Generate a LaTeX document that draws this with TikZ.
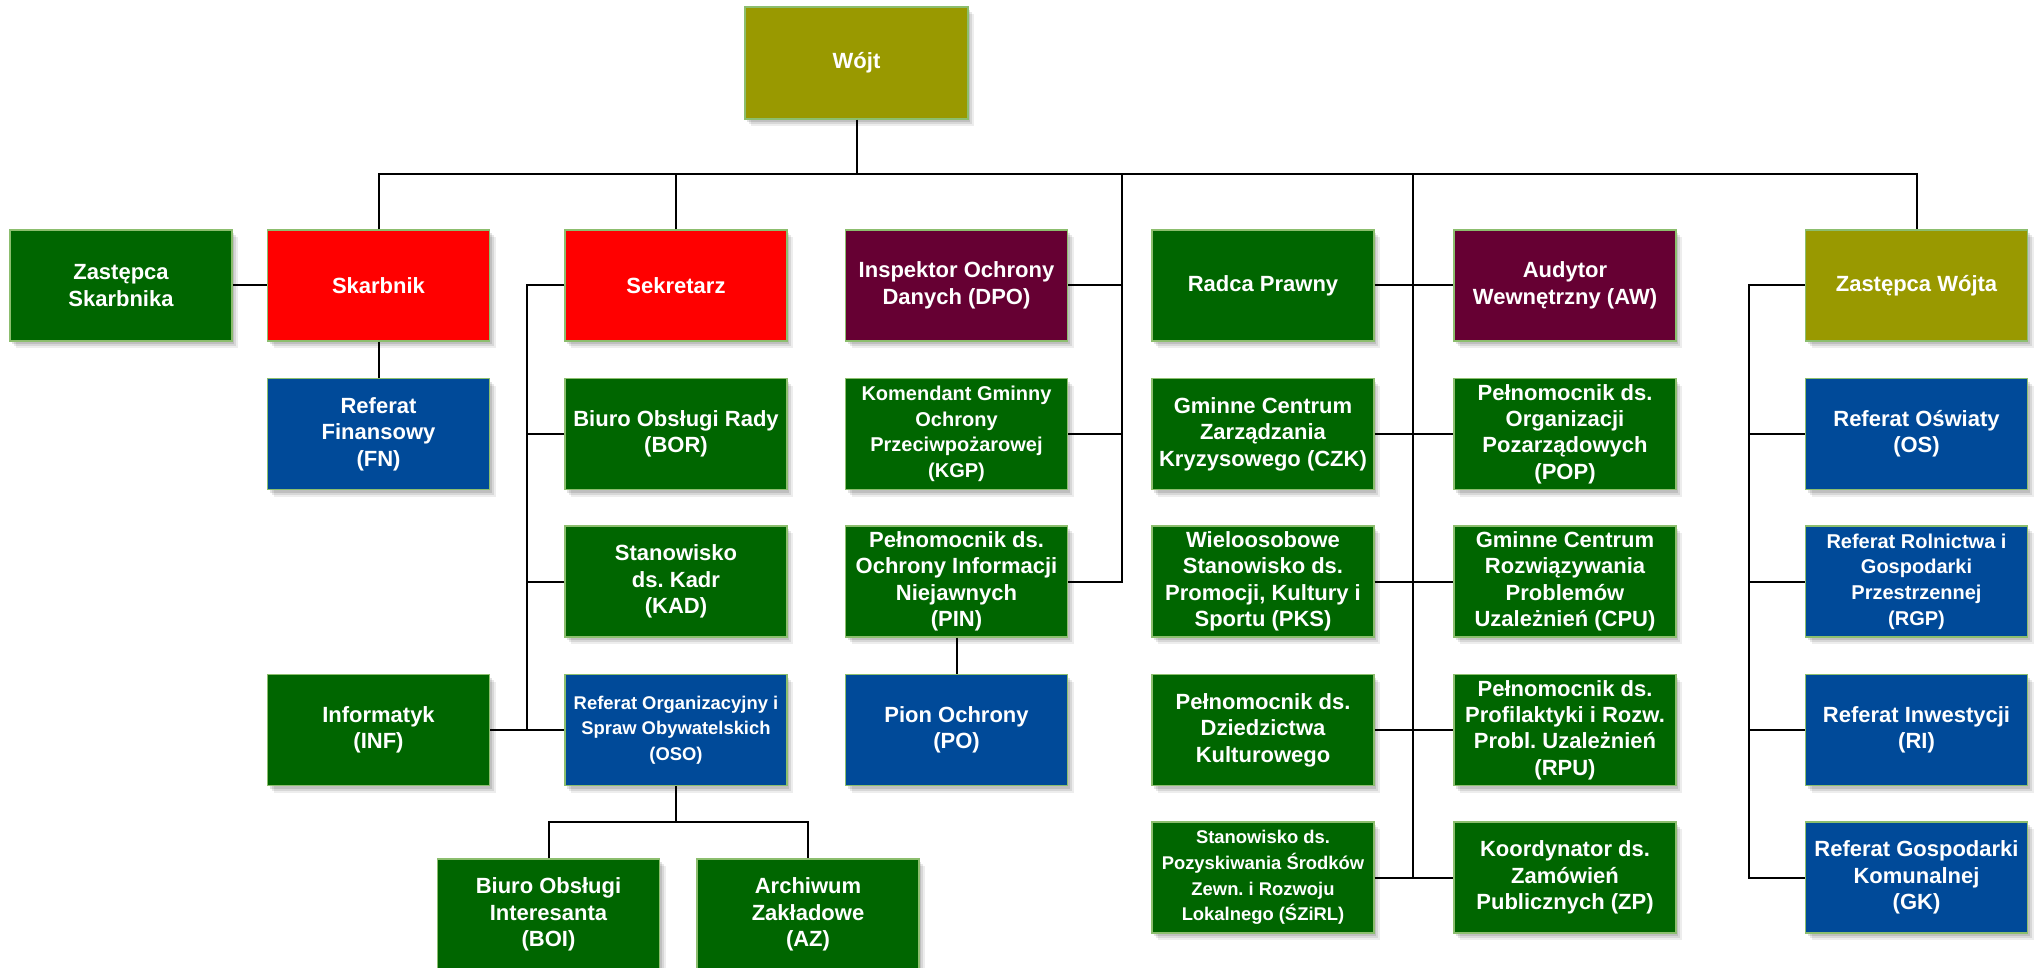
\documentclass[tikz,border=0pt]{standalone}
\usepackage{fontspec}
\setmainfont{Liberation Sans}
\frenchspacing
\usetikzlibrary{shadows}
\definecolor{cOlive}{RGB}{153,153,0}
\definecolor{cRed}{RGB}{255,0,0}
\definecolor{cMaroon}{RGB}{102,0,51}
\definecolor{cGreen}{RGB}{0,102,0}
\definecolor{cBlue}{RGB}{0,74,153}
\definecolor{cEdge}{RGB}{140,190,110}
\tikzset{
  box/.style={rectangle, draw=cEdge, line width=0.6pt, minimum width=111pt, minimum height=55.5pt,
    inner sep=1pt, align=center, text=white,
    font=\fontsize{11}{13.2}\selectfont\bfseries,
    drop shadow={shadow xshift=3pt, shadow yshift=-3.5pt, opacity=0.07, fill=black},
    drop shadow={shadow xshift=2pt, shadow yshift=-2.5pt, opacity=0.09, fill=black},
    drop shadow={shadow xshift=1.2pt, shadow yshift=-1.5pt, opacity=0.11, fill=black}},
  olivebox/.style={box, fill=cOlive},
  redbox/.style={box, fill=cRed},
  maroonbox/.style={box, fill=cMaroon},
  greenbox/.style={box, fill=cGreen},
  bluebox/.style={box, fill=cBlue},
  smallA/.style={font=\fontsize{10}{12.8}\selectfont\bfseries},
  smallB/.style={font=\fontsize{9.2}{12.8}\selectfont\bfseries},
  link/.style={draw=black, line width=1pt}
}
\begin{document}
\begin{tikzpicture}[x=0.5pt,y=-0.5pt]
\useasboundingbox[fill=white] (0,0) rectangle (2040,968);
% row 0
\node[olivebox, minimum width=111.5pt, minimum height=56pt] (wojt) at (856.5,63) {Wójt};
% row 1
\node[greenbox]  (zs)    at (121,285.5)   {Zastępca\\Skarbnika};
\node[redbox]    (skarb) at (378.5,285.5) {Skarbnik};
\node[redbox]    (sek)   at (676,285.5)   {Sekretarz};
\node[maroonbox] (dpo)   at (956.5,285.5) {Inspektor Ochrony\\Danych (DPO)};
\node[greenbox]  (radca) at (1263,285.5)  {Radca Prawny};
\node[maroonbox] (aud)   at (1565,285.5)  {Audytor\\Wewnętrzny (AW)};
\node[olivebox]  (zw)    at (1916.5,285.5){Zastępca Wójta};
% row 2
\node[bluebox]   (fn)    at (378.5,434)   {Referat\\Finansowy\\(FN)};
\node[greenbox]  (bor)   at (676,434)     {Biuro Obsługi Rady\\(BOR)};
\node[greenbox, smallA] (kgp) at (956.5,434) {Komendant Gminny\\Ochrony\\Przeciwpożarowej\\(KGP)};
\node[greenbox]  (czk)   at (1263,434)    {Gminne Centrum\\Zarządzania\\Kryzysowego (CZK)};
\node[greenbox]  (pop)   at (1565,434)    {Pełnomocnik ds.\\Organizacji\\Pozarządowych\\(POP)};
\node[bluebox]   (os)    at (1916.5,434)  {Referat Oświaty\\(OS)};
% row 3
\node[greenbox]  (kad)   at (676,581.5)   {Stanowisko\\ds. Kadr\\(KAD)};
\node[greenbox]  (pin)   at (956.5,581.5) {Pełnomocnik ds.\\Ochrony Informacji\\Niejawnych\\(PIN)};
\node[greenbox]  (pks)   at (1263,581.5)  {Wieloosobowe\\Stanowisko ds.\\Promocji, Kultury i\\Sportu (PKS)};
\node[greenbox]  (cpu)   at (1565,581.5)  {Gminne Centrum\\Rozwiązywania\\Problemów\\Uzależnień (CPU)};
\node[bluebox, smallA] (rgp) at (1916.5,581.5) {Referat Rolnictwa i\\Gospodarki\\Przestrzennej\\(RGP)};
% row 4
\node[greenbox]  (inf)   at (378.5,730)   {Informatyk\\(INF)};
\node[bluebox, smallB] (oso) at (676,730) {Referat Organizacyjny i\\Spraw Obywatelskich\\(OSO)};
\node[bluebox]   (po)    at (956.5,730)   {Pion Ochrony\\(PO)};
\node[greenbox]  (dzk)   at (1263,730)    {Pełnomocnik ds.\\Dziedzictwa\\Kulturowego};
\node[greenbox]  (rpu)   at (1565,730)    {Pełnomocnik ds.\\Profilaktyki i Rozw.\\Probl. Uzależnień\\(RPU)};
\node[bluebox]   (ri)    at (1916.5,730)  {Referat Inwestycji\\(RI)};
% row 5
\node[greenbox]  (boi)   at (548.5,914.5) {Biuro Obsługi\\Interesanta\\(BOI)};
\node[greenbox]  (az)    at (808,914.5)   {Archiwum\\Zakładowe\\(AZ)};
\node[greenbox, smallB] (szirl) at (1263,877.5) {Stanowisko ds.\\Pozyskiwania Środków\\Zewn. i Rozwoju\\Lokalnego (ŚZiRL)};
\node[greenbox]  (zp)    at (1565,877.5)  {Koordynator ds.\\Zamówień\\Publicznych (ZP)};
\node[bluebox]   (gk)    at (1916.5,877.5){Referat Gospodarki\\Komunalnej\\(GK)};
% junction coordinates
\coordinate (bus) at (0,174);
\coordinate (tS) at (527,0);
\coordinate (tD) at (1122,174);
\coordinate (tM) at (1413,174);
\coordinate (tW) at (1749,0);
\coordinate (sub) at (0,822);
% main bus
\draw[link] (skarb.north) -- (skarb.north |- bus) -- (zw.north |- bus) -- (zw.north);
\draw[link] (wojt.south) -- (wojt.south |- bus);
\draw[link] (sek.north) -- (sek.north |- bus);
% Skarbnik group
\draw[link] (zs.east) -- (skarb.west);
\draw[link] (skarb.south) -- (fn.north);
% Sekretarz group
\draw[link] (sek.west) -- (sek.west -| tS) -- (tS |- oso.west) -- (oso.west);
\draw[link] (bor.west) -- (bor.west -| tS);
\draw[link] (kad.west) -- (kad.west -| tS);
\draw[link] (inf.east) -- (inf.east -| tS);
\draw[link] (oso.south) -- (oso.south |- sub);
\draw[link] (boi.north) -- (boi.north |- sub) -- (az.north |- sub) -- (az.north);
% DPO group
\draw[link] (tD) -- (tD |- pin.east) -- (pin.east);
\draw[link] (dpo.east) -- (dpo.east -| tD);
\draw[link] (kgp.east) -- (kgp.east -| tD);
\draw[link] (pin.south) -- (po.north);
% middle trunk
\draw[link] (tM) -- (tM |- zp.west);
\draw[link] (radca.east) -- (aud.west);
\draw[link] (czk.east) -- (pop.west);
\draw[link] (pks.east) -- (cpu.west);
\draw[link] (dzk.east) -- (rpu.west);
\draw[link] (szirl.east) -- (zp.west);
% Zastepca Wojta group
\draw[link] (zw.west) -- (zw.west -| tW) -- (tW |- gk.west) -- (gk.west);
\draw[link] (os.west) -- (os.west -| tW);
\draw[link] (rgp.west) -- (rgp.west -| tW);
\draw[link] (ri.west) -- (ri.west -| tW);
\end{tikzpicture}
\end{document}
